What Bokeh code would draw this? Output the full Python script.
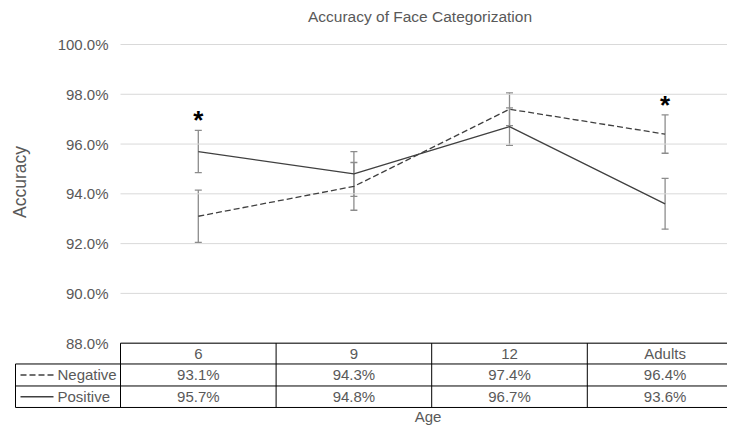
from bokeh.plotting import figure
from bokeh.models import Range1d, FixedTicker, Whisker, ColumnDataSource, TeeHead
from bokeh.embed import file_html
from bokeh.resources import INLINE
from bokeh.core.properties import value

# ---- data ----
ages = ["6", "9", "12", "Adults"]
negative = [93.1, 94.3, 97.4, 96.4]
positive = [95.7, 94.8, 96.7, 93.6]
negative_err = [1.05, 0.96, 0.66, 0.77]
positive_err = [0.85, 0.90, 0.75, 1.02]
significant = ["*", "", "", "*"]
negative_labels = ["93.1%", "94.3%", "97.4%", "96.4%"]
positive_labels = ["95.7%", "94.8%", "96.7%", "93.6%"]
y_ticks = [88, 90, 92, 94, 96, 98, 100]
y_tick_labels = ["88.0%", "90.0%", "92.0%", "94.0%", "96.0%", "98.0%", "100.0%"]
series_names = ["Negative", "Positive"]
title_text = "Accuracy of Face Categorization"

# ---- layout constants ----
FONT = "Liberation Sans"
TXT = "#595959"
LINE = "#404040"
ERR = "#8c8c8c"
GRID = "#d9d9d9"
W, H = 727, 426
COL = 155.6          # px per category column
PXY = 24.89          # px per 1 % on the chart
AXIS_PX = 120        # x position (px) of the chart's left edge
TOP_PX = 44          # y position (px) of the 100 % line
x_start = -AXIS_PX / COL
x_end = (W - AXIS_PX) / COL
x_mid = (735 - AXIS_PX) / COL / 2
y_end = 100 + TOP_PX / PXY
y_start = y_end - H / PXY

def row_y(px):       # table rows, px below the 88 % line
    return 88 - px / PXY

row_lines = [row_y(v) for v in (0, 20.8, 42.8, 64.3)]
left_border = x_start + 15 / COL

xs = [i + 0.5 for i in range(len(ages))]

p = figure(width=W, height=H, output_backend="svg", toolbar_location=None,
           x_range=Range1d(x_start, x_end), y_range=Range1d(y_start, y_end),
           x_axis_location=None, min_border_left=0, min_border_right=0,
           min_border_top=0, min_border_bottom=0)
p.outline_line_color = None
p.grid.visible = False

# y axis placed at the chart's left edge
ax = p.yaxis[0]
ax.fixed_location = 0
ax.bounds = (88, 100.96)
ax.ticker = FixedTicker(ticks=y_ticks)
ax.major_label_overrides = {t: l for t, l in zip(y_ticks, y_tick_labels)}
ax.axis_line_color = None
ax.major_tick_line_color = None
ax.minor_tick_line_color = None
ax.major_tick_out = 0
ax.major_tick_in = 0
ax.minor_tick_out = 0
ax.major_label_standoff = 12
ax.major_label_text_font = FONT
ax.major_label_text_font_size = "15px"
ax.major_label_text_color = TXT
ax.axis_label = "Accuracy"
ax.axis_label_text_font = FONT
ax.axis_label_text_font_size = "17.5px"
ax.axis_label_text_font_style = "normal"
ax.axis_label_text_color = TXT
ax.axis_label_standoff = 25

# gridlines across the chart area only
p.segment(x0=[0] * len(y_ticks), y0=y_ticks, x1=[x_end] * len(y_ticks), y1=y_ticks,
          line_color=GRID, line_width=1)

# title
p.text([x_mid], [100 + (TOP_PX - 16) / PXY], text=[title_text], text_font=value(FONT),
       text_font_size="15.5px", text_color=TXT, text_align="center",
       text_baseline="middle", x_offset=-8)

src = ColumnDataSource(dict(
    x=xs, neg=negative, pos=positive,
    neg_lo=[v - e for v, e in zip(negative, negative_err)],
    neg_hi=[v + e for v, e in zip(negative, negative_err)],
    pos_lo=[v - e for v, e in zip(positive, positive_err)],
    pos_hi=[v + e for v, e in zip(positive, positive_err)],
))

for lo, hi in (("neg_lo", "neg_hi"), ("pos_lo", "pos_hi")):
    w = Whisker(source=src, base="x", lower=lo, upper=hi, line_color=ERR, line_width=1.3,
                upper_head=TeeHead(size=7, line_color=ERR, line_width=1.3),
                lower_head=TeeHead(size=7, line_color=ERR, line_width=1.3))
    p.add_layout(w)

p.line("x", "neg", source=src, line_color=LINE, line_width=1.3, line_dash="6 3")
p.line("x", "pos", source=src, line_color=LINE, line_width=1.3)

star_x, star_y, star_t = [], [], []
for i, s in enumerate(significant):
    if s:
        star_x.append(xs[i])
        star_y.append(max(negative[i] + negative_err[i], positive[i] + positive_err[i]))
        star_t.append(s)
p.text(star_x, star_y, text=star_t, text_font=value(FONT), text_font_size="26px",
       text_font_style="bold", text_color="black", text_align="center",
       text_baseline="middle", y_offset=-10)

# ---- data table ----
h0, h1, h2, h3 = row_lines
# horizontal rules
p.segment(x0=[0], y0=[h0], x1=[x_end], y1=[h0], line_color="black", line_width=1)
p.segment(x0=[left_border] * 3, y0=[h1, h2, h3], x1=[x_end] * 3, y1=[h1, h2, h3],
          line_color="black", line_width=1)
# vertical rules
p.segment(x0=[0, 1, 2, 3], y0=[h0] * 4, x1=[0, 1, 2, 3], y1=[h3] * 4,
          line_color="black", line_width=1)
p.segment(x0=[left_border], y0=[h1], x1=[left_border], y1=[h3],
          line_color="black", line_width=1)

p.text(xs, [(h0 + h1) / 2] * 4, text=ages, text_font=value(FONT),
       text_font_size="15px", text_color=TXT, text_align="center", text_baseline="middle")
p.text(xs, [(h1 + h2) / 2] * 4, text=negative_labels, text_font=value(FONT),
       text_font_size="15px", text_color=TXT, text_align="center", text_baseline="middle")
p.text(xs, [(h2 + h3) / 2] * 4, text=positive_labels, text_font=value(FONT),
       text_font_size="15px", text_color=TXT, text_align="center", text_baseline="middle")

# legend keys in the table's first column
key_x0 = x_start + 20 / COL
key_x1 = x_start + 53 / COL
name_x = x_start + 57 / COL
yk = [(h1 + h2) / 2, (h2 + h3) / 2]
p.segment(x0=[key_x0], y0=[yk[0]], x1=[key_x1], y1=[yk[0]], line_color=LINE,
          line_width=1.3, line_dash="6 3")
p.segment(x0=[key_x0], y0=[yk[1]], x1=[key_x1], y1=[yk[1]], line_color=LINE,
          line_width=1.3)
p.text([name_x, name_x], yk, text=series_names, text_font=value(FONT),
       text_font_size="15px", text_color=TXT, text_align="left", text_baseline="middle")

# x axis title
p.text([x_mid], [row_y(73.5)], text=["Age"], text_font=value(FONT),
       text_font_size="15px", text_color=TXT, text_align="center", text_baseline="middle")

open("out.html", "w").write(file_html(p, INLINE))
